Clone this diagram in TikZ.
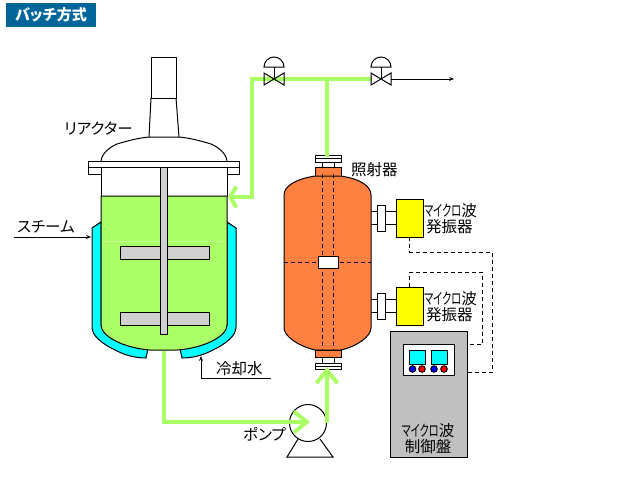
\documentclass[tikz,border=0pt]{standalone}
\usepackage{graphicx}
\usepackage{fontspec}
\setmainfont[RawFeature=+palt]{Noto Sans CJK JP}
\usetikzlibrary{arrows.meta}
\definecolor{liquid}{HTML}{AAFF66}
\definecolor{shell}{HTML}{FF8040}
\definecolor{titleblue}{HTML}{006699}
\definecolor{shaftgray}{HTML}{D0D0D0}
\definecolor{boxgray}{HTML}{C0C0C0}
\definecolor{jacket}{HTML}{00FFFF}
\definecolor{oscyellow}{HTML}{FFFF00}
\definecolor{btnblue}{HTML}{0000FF}
\definecolor{btnred}{HTML}{FF0000}
\newcommand{\micro}{\scalebox{0.66}[1]{マイクロ}波}
\tikzset{
    part/.style={draw=black, line width=1pt, inner sep=0pt, outer sep=0pt},
    label/.style={inner sep=0pt, font=\fontsize{15.5}{16}\selectfont, align=center},
    pipe/.style={draw=liquid, line width=4pt},
    wire/.style={draw=black, line width=1pt},
    signal/.style={draw=black, line width=1pt, dash pattern=on 4pt off 3pt},
    thin arrow/.style={wire, -{Stealth[length=5pt,width=4pt,inset=2pt]}},
    pipe head/.style={pipe, -{Straight Barb[length=13pt,width=21pt]}}
}
\begin{document}
\begin{tikzpicture}[x=1pt, y=-1pt]
        \useasboundingbox (0,0) rectangle (642,485);
        \node[fill=titleblue, minimum width=90pt, minimum height=24pt, inner sep=0pt, text=white, font=\fontsize{15}{15}\selectfont\bfseries] (title) at (51,15) {バッチ方式};

        \draw[part] (151,57) rectangle (176,98);
        \draw[part] (151,98) -- (149,137) (176,98) -- (179,137);
        \draw[part] (101,161) .. controls (102,153) and (110,147) .. (117,144) .. controls (127,141) and (138,138) .. (149,137) -- (179,137) .. controls (190,138) and (201,141) .. (211,144) .. controls (218,147) and (226,153) .. (227,161);
        \draw[part] (88,167) rectangle (101,174);
        \draw[part] (227,167) rectangle (239,174);
        \draw[part] (88,161) rectangle (239,167);

        \draw[part, fill=jacket] (101,222) -- (92,228) -- (92,327) .. controls (92,335) and (100,343) .. (117,351) .. controls (125,355) and (135,358) .. (146,358) -- (148,349) -- (101,325) -- cycle;
        \draw[part, fill=jacket] (227,222) -- (236,228) -- (236,327) .. controls (236,335) and (228,343) .. (211,351) .. controls (203,355) and (193,358) .. (182,358) -- (180,349) -- (227,325) -- cycle;
        \draw[part, fill=liquid] (101,196) -- (227,196) -- (227,325) .. controls (227,336) and (205,348) .. (177,350) -- (150,350) .. controls (123,348) and (101,336) .. (101,325) -- cycle;
        \draw[part] (101,167) -- (101,196) (227,167) -- (227,196);
        \draw[color=liquid!70!white, line width=0.5pt] (102,241.5) -- (226,241.5);
        \draw[part, fill=shaftgray] (120,246) rectangle (209,259);
        \draw[part, fill=shaftgray] (120,312) rectangle (209,325);
        \draw[part, fill=shaftgray] (160.5,167) rectangle (167,334);

        \draw[part] (322,162) rectangle (334,167);
        \draw[part] (315,155) rectangle (341,162);
        \draw[part] (315,158.5) -- (341,158.5);
        \draw[part] (322,357) rectangle (334,363);
        \draw[part] (315,363) rectangle (341,369);
        \draw[part] (315,366) -- (341,366);
        \draw[part, fill=shell] (315,167) rectangle (341,176);
        \draw[part, fill=shell] (315,350) rectangle (341,357);
        \draw[part, fill=shell] (284,195) .. controls (284,186) and (296,179) .. (315,176) -- (341,176) .. controls (360,179) and (371,186) .. (371,195) -- (371,328) .. controls (371,336) and (358,346) .. (341,350) -- (315,350) .. controls (298,346) and (284,336) .. (284,328) -- cycle;
        \draw[signal] (322,174) -- (322,350) (333.5,174) -- (333.5,350);
        \draw[signal] (284,262) -- (371,262);
        \node[part, fill=white, minimum width=20pt, minimum height=12pt] (window) at (328,262) {};

        \foreach \n/\y in {a/218, b/306} {
            \node[part, fill=oscyellow, minimum width=27pt, minimum height=38pt] (osc\n) at (409.5,\y) {};
            \draw[part] (371,\y-6.5) -- (396,\y-6.5) (371,\y+6.5) -- (396,\y+6.5);
            \node[part, fill=white, minimum width=8pt, minimum height=26pt] (port\n) at (381,\y) {};
            \node[label, anchor=west] (lab\n) at (424,\y-7) {\micro};
            \node[label, anchor=west] (sub\n) at (426,\y+9) {発振器};
        }

        \node[part, fill=boxgray, minimum width=77pt, minimum height=126pt] (ctrl) at (428.5,394) {};
        \node[part, fill=white, minimum width=51pt, minimum height=31pt] (panel) at (428.5,359.5) {};
        \foreach \n/\x in {a/417.5, b/439.5} {
            \node[part, fill=jacket, minimum width=16.5pt, minimum height=14pt] (screen\n) at (\x,357) {};
        }
        \foreach \n/\x/\c in {a/412.5/btnblue, b/422/btnred, c/434/btnblue, d/444/btnred} {
            \node[part, circle, fill=\c, minimum size=6.5pt] (btn\n) at (\x,369) {};
        }
        \node[label] (ctrllab) at (428,438.5) {\micro\\[-0.5pt]制御盤};

        \coordinate (s1) at (409.5,252);
        \coordinate (s2) at (492,252);
        \coordinate (s3) at (492,372);
        \coordinate (s4) at (467,372);
        \coordinate (s5) at (409.5,272);
        \coordinate (s6) at (482,272);
        \coordinate (s7) at (482,344);
        \coordinate (s8) at (467,344);
        \draw[signal] (osca.south) -- (s1) -- (s2) -- (s3) -- (s4);
        \draw[signal] (oscb.north) -- (s5) -- (s6) -- (s7) -- (s8);

        \node[part, circle, fill=white, minimum size=37pt] (pump) at (308,423) {};
        \coordinate (f1) at (287,457);
        \coordinate (f2) at (333,457);
        \coordinate (f3) at (298,439);
        \coordinate (f4) at (320,439);
        \draw[wire] (f3) -- (f1) -- (f2) -- (f4);

        \coordinate (p1) at (164,351);
        \coordinate (p2) at (164,422);
        \coordinate (p3) at (310,422);
        \coordinate (p4) at (327,423);
        \coordinate (p5) at (327,367);
        \coordinate (p6) at (327,157);
        \coordinate (p7) at (327,79);
        \coordinate (p8) at (252,79);
        \coordinate (p9) at (252,197);
        \coordinate (p10) at (228,197);
        \coordinate (p11) at (372,79);
        \draw[pipe head] (p1) -- (p2) -- (p3);
        \draw[pipe head] (p4) -- (p5);
        \draw[pipe] (p6) -- (p7);
        \draw[pipe, line join=miter, -{Straight Barb[length=6pt,width=21pt]}] (p11) -- (p8) -- (p9) -- (p10);

        \foreach \n/\x in {a/274, b/381} {
            \coordinate (v\n) at (\x,79);
            \draw[wire] (\x-10,73) -- (\x+10,85) -- (\x+10,73) -- (\x-10,85) -- cycle;
            \draw[wire] (v\n) -- (\x,67);
            \draw[wire] (\x-10,67) -- (\x+10,67) arc[start angle=0, end angle=180, x radius=10pt, y radius=10pt] -- cycle;
        }
        \coordinate (o1) at (391,79);
        \coordinate (o2) at (454,79);
        \draw[thin arrow] (o1) -- (o2);

        \coordinate (st1) at (14,237);
        \coordinate (st2) at (91,237);
        \draw[thin arrow] (st1) -- (st2);
        \coordinate (c1) at (271,378);
        \coordinate (c2) at (201,378);
        \coordinate (c3) at (201,356);
        \draw[thin arrow] (c1) -- (c2) -- (c3);

        \node[label, anchor=west] (reactor) at (64,128.5) {リアクター};
        \node[label, anchor=west] (steam) at (17,226.5) {スチーム};
        \node[label, anchor=west] (water) at (216,369) {冷却水};
        \node[label, anchor=west] (irrad) at (351,170) {照射器};
        \node[label, anchor=west] (pumplab) at (243,434.5) {ポンプ};
    \end{tikzpicture}
\end{document}
